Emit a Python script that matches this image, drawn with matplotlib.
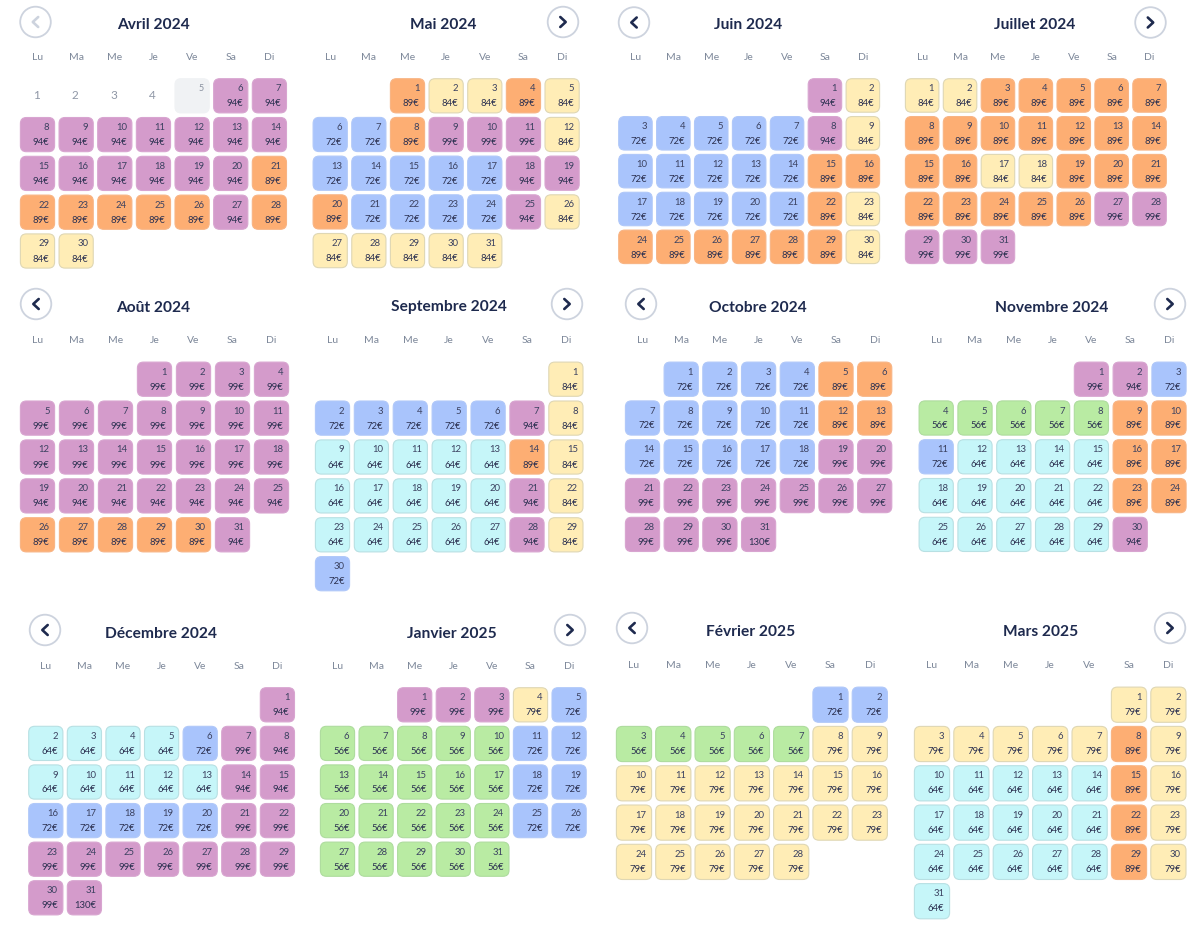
import matplotlib
matplotlib.use('Agg')
import matplotlib.pyplot as plt
from matplotlib.patches import FancyBboxPatch, Circle

plt.rcParams['font.family'] = ['Lato', 'DejaVu Sans']

weekdays = ['Lu', 'Ma', 'Me', 'Je', 'Ve', 'Sa', 'Di']

months = ['Avril 2024', 'Mai 2024', 'Juin 2024', 'Juillet 2024',
          'Août 2024', 'Septembre 2024', 'Octobre 2024', 'Novembre 2024',
          'Décembre 2024', 'Janvier 2025', 'Février 2025', 'Mars 2025']

# column of the 1st of each month, 0 = lundi
first_col = [0, 2, 5, 0, 3, 6, 1, 4, 6, 2, 5, 5]

# None = day not on sale
avril = [None, None, None, None, None, 94, 94,
         94, 94, 94, 94, 94, 94, 94,
         94, 94, 94, 94, 94, 94, 89,
         89, 89, 89, 89, 89, 94, 89,
         84, 84]
mai = [89, 84, 84, 89, 84,
       72, 72, 89, 99, 99, 99, 84,
       72, 72, 72, 72, 72, 94, 94,
       89, 72, 72, 72, 72, 94, 84,
       84, 84, 84, 84, 84]
juin = [94, 84,
        72, 72, 72, 72, 72, 94, 84,
        72, 72, 72, 72, 72, 89, 89,
        72, 72, 72, 72, 72, 89, 84,
        89, 89, 89, 89, 89, 89, 84]
juillet = [84, 84, 89, 89, 89, 89, 89,
           89, 89, 89, 89, 89, 89, 89,
           89, 89, 84, 84, 89, 89, 89,
           89, 89, 89, 89, 89, 99, 99,
           99, 99, 99]
aout = [99, 99, 99, 99,
        99, 99, 99, 99, 99, 99, 99,
        99, 99, 99, 99, 99, 99, 99,
        94, 94, 94, 94, 94, 94, 94,
        89, 89, 89, 89, 89, 94]
septembre = [84,
             72, 72, 72, 72, 72, 94, 84,
             64, 64, 64, 64, 64, 89, 84,
             64, 64, 64, 64, 64, 94, 84,
             64, 64, 64, 64, 64, 94, 84,
             72]
octobre = [72, 72, 72, 72, 89, 89,
           72, 72, 72, 72, 72, 89, 89,
           72, 72, 72, 72, 72, 99, 99,
           99, 99, 99, 99, 99, 99, 99,
           99, 99, 99, 130]
novembre = [99, 94, 72,
            56, 56, 56, 56, 56, 89, 89,
            72, 64, 64, 64, 64, 89, 89,
            64, 64, 64, 64, 64, 89, 89,
            64, 64, 64, 64, 64, 94]
decembre = [94,
            64, 64, 64, 64, 72, 99, 94,
            64, 64, 64, 64, 64, 94, 94,
            72, 72, 72, 72, 72, 99, 99,
            99, 99, 99, 99, 99, 99, 99,
            99, 130]
janvier = [99, 99, 99, 79, 72,
           56, 56, 56, 56, 56, 72, 72,
           56, 56, 56, 56, 56, 72, 72,
           56, 56, 56, 56, 56, 72, 72,
           56, 56, 56, 56, 56]
fevrier = [72, 72,
           56, 56, 56, 56, 56, 79, 79,
           79, 79, 79, 79, 79, 79, 79,
           79, 79, 79, 79, 79, 79, 79,
           79, 79, 79, 79, 79]
mars = [79, 79,
        79, 79, 79, 79, 79, 89, 79,
        64, 64, 64, 64, 64, 89, 79,
        64, 64, 64, 64, 64, 89, 79,
        64, 64, 64, 64, 64, 89, 79,
        64]
prices = [avril, mai, juin, juillet, aout, septembre, octobre, novembre,
          decembre, janvier, fevrier, mars]

# fill, edge
colors = {56: ('#B9EBA3', '#AEDC9E'), 64: ('#C6F6F9', '#B8E0E3'),
          72: ('#A9C4FC', '#B0C8F9'), 79: ('#FFEDB6', '#DFD7B4'),
          84: ('#FFEDB6', '#DFD7B4'), 89: ('#FDAE73', '#F8B484'),
          94: ('#D49BCB', '#D8A5D0'), 99: ('#D49BCB', '#D8A5D0'),
          130: ('#D49BCB', '#D8A5D0')}
navy = '#1E2A4E'

# x0, y0, pitch x, pitch y, cell, title x, title baseline, weekday y, button x, button y, side
layout = [
    (20, 78.3, 38.65, 38.8, 35, 153, 29, 57.8, 35.5, 22, 'l'),
    (312.7, 78.3, 38.65, 38.7, 35, 443, 29, 57.8, 563, 22, 'r'),
    (618.3, 78.3, 37.9, 37.85, 34.3, 748, 29.3, 57.8, 634, 22.5, 'l'),
    (905, 78.3, 37.9, 37.85, 34.3, 1035, 29.3, 57.8, 1150.5, 22.5, 'r'),
    (20, 361.7, 39, 38.9, 35, 153, 311.5, 340.8, 36, 304, 'l'),
    (315, 361.7, 38.9, 38.9, 35, 449, 311.5, 340.8, 567, 304, 'r'),
    (625, 361.7, 38.7, 38.8, 35, 758, 311.5, 340.8, 641, 304, 'l'),
    (918.7, 361.7, 38.8, 38.8, 35, 1052, 311.5, 340.8, 1170, 304, 'r'),
    (28.3, 687.3, 38.6, 38.6, 35, 161, 637.5, 666.8, 45, 630, 'l'),
    (320, 687.3, 38.6, 38.6, 35, 452, 637.5, 666.8, 570, 630, 'r'),
    (616, 686.7, 39.3, 39.3, 36, 751, 635.7, 665.8, 632, 628, 'l'),
    (914, 686.7, 39.4, 39.3, 36, 1041, 635.7, 665.8, 1170, 628, 'r'),
]


def draw_button(ax, x, y, side, disabled=False):
    ax.add_patch(Circle((x, y), 15.3, facecolor='white', edgecolor='#CDD3DE', lw=1.3))
    d = -1 if side == 'l' else 1
    col = '#CDD3DE' if disabled else navy
    ax.plot([x - d * 2.7, x + d * 2.7, x - d * 2.7], [y - 5, y, y + 5], color=col, lw=1.9,
            solid_capstyle='round', solid_joinstyle='round')


def draw_cell(ax, x, y, cell, fill, edge):
    # pad carries the corner radius, so the box is shrunk by the same amount
    ax.add_patch(FancyBboxPatch((x + 6, y + 6), cell - 12, cell - 12,
                                boxstyle='round,pad=5.6,rounding_size=6',
                                facecolor=fill, edgecolor=edge, lw=0.8))


def draw_month(ax, idx):
    x0, y0, px, py, cell, tx, ty, wy, bx, by, side = layout[idx]
    ax.text(tx, ty, months[idx], ha='center', va='baseline', fontsize=11.2,
            fontweight='bold', color=navy)
    draw_button(ax, bx, by, side, disabled=idx == 0)
    for i, wd in enumerate(weekdays):
        ax.text(x0 + i * px + cell / 2, wy, wd, ha='center', va='center',
                fontsize=7.5, color='#7C8799')

    for n, price in enumerate(prices[idx]):
        pos = n + first_col[idx]
        x = x0 + (pos % 7) * px
        y = y0 + (pos // 7) * py
        day = n + 1
        if price is None:
            if day < 5:
                ax.text(x + cell / 2 - 1, y + cell / 2, str(day), ha='center', va='center',
                        fontsize=8.5, color='#8F97A6')
            else:
                draw_cell(ax, x, y, cell, '#F0F2F4', '#F0F2F4')
                ax.text(x + cell - 5.5, y + 10, str(day), ha='right', va='center',
                        fontsize=6.5, color='#8A92A0')
            continue
        fill, edge = colors[price]
        draw_cell(ax, x, y, cell, fill, edge)
        ax.text(x + cell - 5.5, y + 10.5, str(day), ha='right', va='center',
                fontsize=6.8, color='#3B4160')
        ax.text(x + cell - 5.5, y + 25.5, f'{price}€', ha='right', va='center',
                fontsize=6.8, color='#2B3050')


fig = plt.figure(figsize=(12, 9.32), dpi=100)
ax = fig.add_axes([0, 0, 1, 1])
ax.set_xlim(0, 1200)
ax.set_ylim(932, 0)
ax.axis('off')

for m in range(len(months)):
    draw_month(ax, m)

fig.savefig('out.png', dpi=100)
